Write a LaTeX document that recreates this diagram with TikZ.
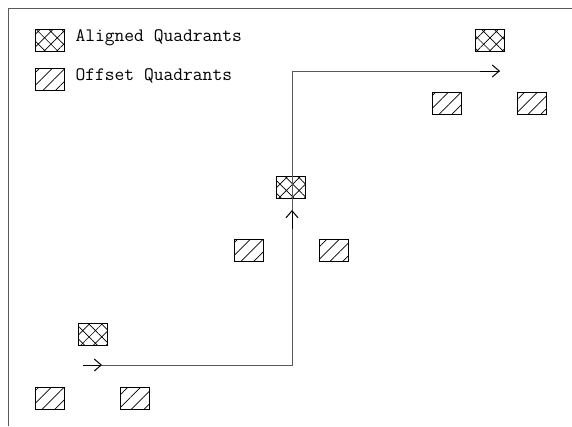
\documentclass[tikz,border=0pt]{standalone}
\usetikzlibrary{patterns.meta,arrows.meta}
\begin{document}
\begin{tikzpicture}[x=1pt, y=-1pt,
    quad/.style={draw, line width=0.9pt, minimum width=29pt, minimum height=22pt, inner sep=0pt},
    aligned/.style={quad, pattern={Hatch[angle=45, distance=9pt, line width=0.7pt]}},
    offset/.style={quad, pattern={Lines[angle=45, distance=9pt, line width=0.7pt]}},
    route/.style={draw=black!65, line width=1pt},
    heading/.style={-{Straight Barb[length=7pt, width=12pt]}, line width=1pt},
    legend/.style={anchor=base west, font=\fontsize{19}{22}\selectfont\ttfamily}]
    \useasboundingbox (0,0) rectangle (572,426);
    \draw[route] (8,426) -- (8,8) -- (572,8);

    \node[aligned] (keyA) at (49.5,40) {};
    \node[offset]  (keyO) at (49.5,79) {};
    \node[legend] (txtA) at (72,41) {Aligned Quadrants};
    \node[legend] (txtO) at (72,80) {Offset Quadrants};

    \node[aligned] (a1) at (92.5,334.5) {};
    \node[offset]  (o1) at (50,398) {};
    \node[offset]  (o2) at (134.5,398) {};
    \node[aligned] (a2) at (291,187.5) {};
    \node[offset]  (o3) at (248.5,250) {};
    \node[offset]  (o4) at (333.5,250) {};
    \node[aligned] (a3) at (489.5,40) {};
    \node[offset]  (o5) at (447,103) {};
    \node[offset]  (o6) at (532,103) {};

    \coordinate (start) at (83,365);
    \coordinate (turn1) at (292,365);
    \coordinate (turn2) at (292,71);
    \coordinate (stop)  at (500,71);
    \coordinate (tipR)  at (102,365);
    \coordinate (tipU)  at (292,210);
    \coordinate (tailU) at (292,229);
    \coordinate (tailE) at (480,71);

    \draw[route] (start) -- (turn1) -- (turn2) -- (stop);
    \draw[heading] (start) -- (tipR);
    \draw[heading] (tailU) -- (tipU);
    \draw[heading] (tailE) -- (stop);
\end{tikzpicture}
\end{document}
